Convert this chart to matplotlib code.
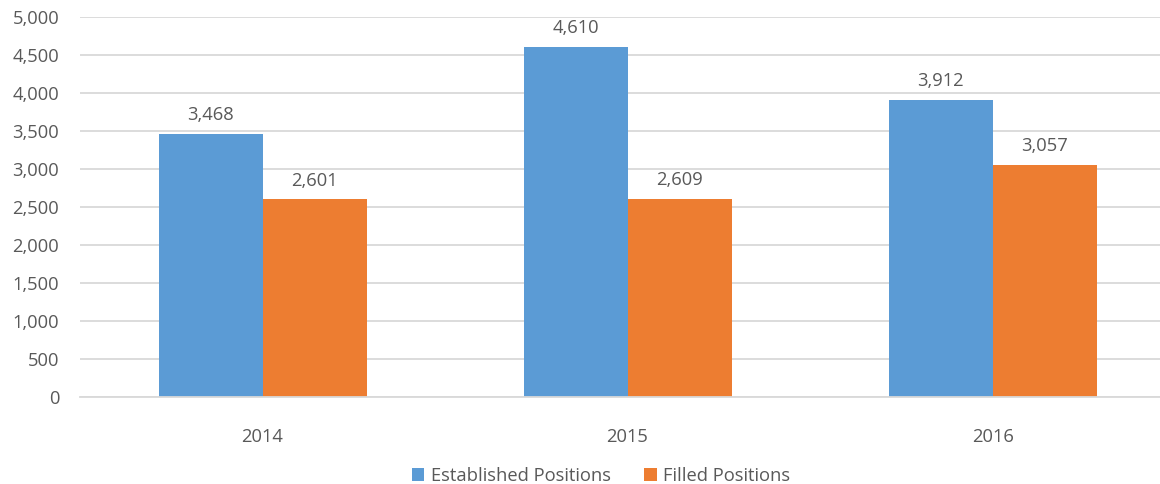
import numpy as np
import matplotlib.pyplot as plt
from matplotlib.ticker import FuncFormatter

plt.rcParams['font.family'] = ['Open Sans', 'DejaVu Sans']

# data
years = ['2014', '2015', '2016']
established = [3468, 4610, 3912]
filled = [2601, 2609, 3057]

blue = '#5b9bd5'
orange = '#ed7d31'
text_gray = '#595959'
grid_gray = '#d9d9d9'
fs = 13.2

fig = plt.figure(figsize=(11.6, 4.84), dpi=100)
ax = fig.add_axes([0.069, 0.179, 0.944, 0.786])

x = np.arange(len(years))
w = 0.285
b1 = ax.bar(x - w / 2, established, w, color=blue, label='Established Positions', zorder=2)
b2 = ax.bar(x + w / 2, filled, w, color=orange, label='Filled Positions', zorder=2)

for bars in (b1, b2):
    ax.bar_label(bars, labels=[f'{v:,}' for v in bars.datavalues], padding=7,
                 fontsize=fs, color=text_gray)

ax.set_xlim(-0.5, 2.5)
ax.set_ylim(0, 5000)
ax.set_yticks(np.arange(0, 5001, 500))
ax.yaxis.set_major_formatter(FuncFormatter(lambda v, p: f'{int(v):,}'))
ax.set_xticks(x)
ax.set_xticklabels(years)

ax.grid(axis='y', color=grid_gray, linewidth=1.3, zorder=0)
ax.set_axisbelow(True)
for s in ['top', 'right', 'left']:
    ax.spines[s].set_visible(False)
ax.spines['bottom'].set_color(grid_gray)
ax.spines['bottom'].set_linewidth(1.3)
ax.spines['bottom'].set_zorder(3)

ax.tick_params(axis='both', length=0, labelsize=fs, labelcolor=text_gray)
ax.tick_params(axis='y', pad=15)
ax.tick_params(axis='x', pad=22)

fig.legend(handles=[b1, b2], loc='center', bbox_to_anchor=(0.518, 0.017), ncol=2,
           frameon=False, fontsize=fs, labelcolor=text_gray,
           handlelength=0.7, handleheight=0.7, handletextpad=0.35, columnspacing=1.8)

fig.savefig('out.png', dpi=100)
